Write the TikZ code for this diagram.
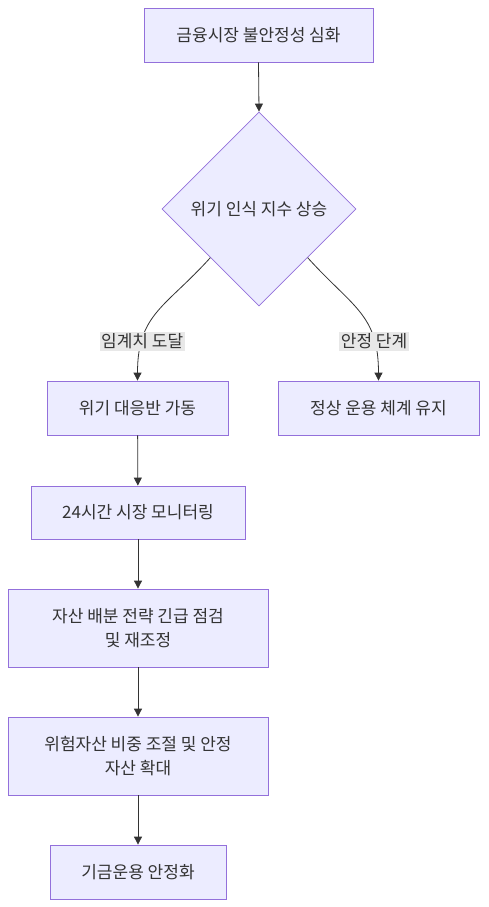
\documentclass[tikz,border=0pt]{standalone}
\usepackage{fontspec}
\setmainfont{Noto Sans CJK KR}
\usetikzlibrary{shapes.geometric,arrows.meta}
\definecolor{boxfill}{HTML}{ECECFF}
\definecolor{boxline}{HTML}{9370DB}
\definecolor{ink}{HTML}{333333}
\definecolor{lblbg}{HTML}{E8E8E8}
\begin{document}
\begin{tikzpicture}[x=1pt, y=-1pt,
    every node/.style={text=ink, font=\fontsize{17}{24}\selectfont},
    box/.style={draw=boxline, fill=boxfill, line width=0.8pt, inner sep=0pt, align=center},
    decide/.style={box, diamond, minimum width=194pt, minimum height=194pt},
    lbl/.style={fill=lblbg, inner sep=1.5pt},
    flow/.style={draw=ink, line width=0.8pt, -{Triangle[length=8pt, width=8pt]}}]
    \useasboundingbox (0, 0) rectangle (488, 907);

    \begin{scope}
        \node[box, minimum width=229pt, minimum height=54pt] (unrest) at (258.5, 35) {금융시장 불안정성 심화};
        \node[decide] (index) at (259, 209) {위기 인식 지수 상승};
        \draw[flow] (unrest.south) -- (index.north);
    \end{scope}

    \begin{scope}
        \node[box, minimum width=181pt, minimum height=54pt] (team) at (137.5, 408) {위기 대응반 가동};
        \node[box, minimum width=214pt, minimum height=53pt] (watch) at (138, 512.5) {24시간 시장 모니터링};
        \node[box, minimum width=260pt, minimum height=78pt] (review) at (138, 628) {자산 배분 전략 긴급 점검\\및 재조정};
        \node[box, minimum width=260pt, minimum height=78pt] (shift) at (138, 756) {위험자산 비중 조절 및 안정\\자산 확대};
        \node[box, minimum width=176pt, minimum height=54pt] (stable) at (138, 872) {기금운용 안정화};
        \draw[flow] (index.south west) to[out=-132, in=90, looseness=1.2] node[lbl, pos=0.76] {임계치 도달} (team.north);
        \draw[flow] (team) -- (watch);
        \draw[flow] (watch) -- (review);
        \draw[flow] (review) -- (shift);
        \draw[flow] (shift) -- (stable);
    \end{scope}

    \begin{scope}
        \node[box, minimum width=201pt, minimum height=54pt] (normal) at (378.5, 408) {정상 운용 체계 유지};
        \draw[flow] (index.south east) to[out=-48, in=90, looseness=1.2] node[lbl, pos=0.76] {안정 단계} (normal.north);
    \end{scope}
\end{tikzpicture}
\end{document}
